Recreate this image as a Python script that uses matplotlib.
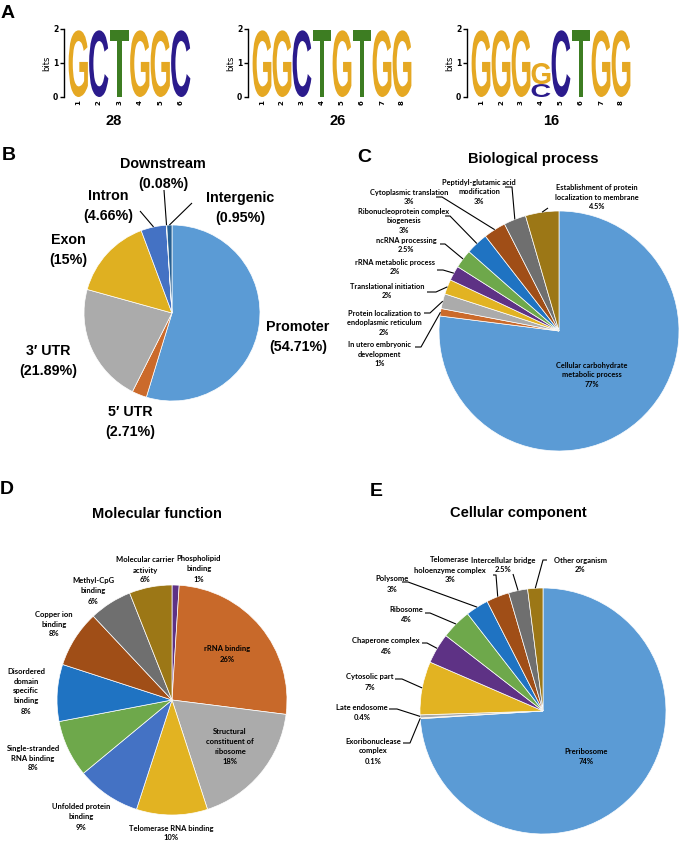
import numpy as np
import matplotlib
matplotlib.use("Agg")
import matplotlib.pyplot as plt
from matplotlib.textpath import TextPath
from matplotlib.patches import PathPatch
from matplotlib.font_manager import FontProperties
from matplotlib.transforms import Affine2D

W, H = 688, 844

# ---------------- data ----------------
# motif logos: each position is a stack (bottom -> top) of (base, bits)
motif_counts = ["28", "26", "16"]
motif1 = [[("G", 1.96)], [("C", 1.96)], [("T", 1.96)], [("G", 1.96)], [("G", 1.96)], [("C", 1.96)]]
motif2 = [[("G", 1.96)], [("G", 1.96)], [("C", 1.96)], [("T", 1.96)],
          [("G", 1.96)], [("T", 1.96)], [("G", 1.96)], [("G", 1.96)]]
motif3 = [[("G", 1.96)], [("G", 1.96)], [("G", 1.96)], [("C", 0.38), ("G", 0.62)],
          [("C", 1.96)], [("T", 1.96)], [("G", 1.96)], [("G", 1.96)]]

region_names = ["Promoter", "5\u2032 UTR", "3\u2032 UTR", "Exon", "Intron", "Downstream", "Intergenic"]
region_pct = [54.71, 2.71, 21.89, 15, 4.66, 0.08, 0.95]

bp_names = ["Cellular carbohydrate\nmetabolic process", "In utero embryonic\ndevelopment",
            "Protein localization to\nendoplasmic reticulum", "Translational initiation",
            "rRNA metabolic process", "ncRNA processing", "Ribonucleoprotein complex\nbiogenesis",
            "Cytoplasmic translation", "Peptidyl-glutamic acid\nmodification",
            "Establishment of protein\nlocalization to membrane"]
bp_pct = [77, 1, 2, 2, 2, 2.5, 3, 3, 3, 4.5]

mf_names = ["Phospholipid\nbinding", "rRNA binding", "Structural\nconstituent of\nribosome",
            "Telomerase RNA binding", "Unfolded protein\nbinding", "Single-stranded\nRNA binding",
            "Disordered\ndomain\nspecific\nbinding", "Copper ion\nbinding", "Methyl-CpG\nbinding",
            "Molecular carrier\nactivity"]
mf_pct = [1, 26, 18, 10, 9, 8, 8, 8, 6, 6]

cc_names = ["Preribosome", "Exoribonuclease\ncomplex", "Late endosome", "Cytosolic part",
            "Chaperone complex", "Ribosome", "Polysome", "Telomerase\nholoenzyme complex",
            "Intercellular bridge", "Other organism"]
cc_pct = [74, 0.1, 0.4, 7, 4, 4, 3, 3, 2.5, 2]

# ---------------- style ----------------
base_colors = {"G": "#E5A823", "C": "#2B1B8C", "T": "#3D7D22"}
region_colors = ["#5B9BD5", "#CB6A2B", "#ABABAB", "#DFB021", "#4472C4", "#6FA54A", "#265F92"]
go_colors = ["#5B9BD5", "#CB6A2B", "#ABABAB", "#E2B322", "#5E3285", "#6EA84B",
             "#1F73C2", "#A04E17", "#6F6F6F", "#9C7716"]
mf_colors = ["#5E3285", "#C8692A", "#ABABAB", "#E2B322", "#4472C4", "#6EA84B",
             "#1F73C2", "#A04E17", "#6F6F6F", "#9C7716"]

ARIAL = ["Liberation Sans", "DejaVu Sans"]
SMALL = ["Lato", "DejaVu Sans"]
letter_fp = FontProperties(family="Liberation Sans", weight="bold")

fig = plt.figure(figsize=(W / 100, H / 100), dpi=100)


def draw_letter(ax, ch, x, y, w, h, color):
    tp = TextPath((0, 0), ch, size=1, prop=letter_fp)
    bb = tp.get_extents()
    tr = Affine2D().translate(-bb.x0, -bb.y0).scale(w / bb.width, h / bb.height).translate(x, y)
    ax.add_patch(PathPatch(tr.transform_path(tp), fc=color, ec="none"))


def logo(box, stacks, count, count_x):
    x0, x1, ytop, ybot = box
    lax = fig.add_axes([x0 / W, 1 - ybot / H, (x1 - x0) / W, (ybot - ytop) / H])
    n = len(stacks)
    lax.set_xlim(0.5, n + 0.5)
    lax.set_ylim(0, 2)
    for i, stack in enumerate(stacks, start=1):
        base = 0
        for ch, h in stack:
            draw_letter(lax, ch, i - 0.47, base, 0.94, h, base_colors[ch])
            base += h
    for s in ["top", "right", "bottom"]:
        lax.spines[s].set_visible(False)
    lax.spines["left"].set_position(("outward", 3))
    lax.spines["left"].set_linewidth(1.0)
    lax.set_yticks([0, 1, 2], labels=["0", "1", "2"], fontsize=5.5, fontweight="bold")
    lax.tick_params(axis="y", length=3, width=1.0, pad=1)
    lax.set_xticks(range(1, n + 1), labels=[str(i) for i in range(1, n + 1)],
                   rotation=90, fontsize=5, fontweight="bold")
    lax.tick_params(axis="x", length=0, pad=2)
    lax.set_ylabel("bits", fontsize=6, labelpad=1)
    fig.text(count_x / W, 1 - 121 / H, count, fontsize=10.5, fontweight="bold",
             family=ARIAL, ha="center", va="center")


logo((68, 191, 29, 97), motif1, motif_counts[0], 114)
logo((252, 412, 29, 97), motif2, motif_counts[1], 338)
logo((471, 631, 29, 97), motif3, motif_counts[2], 551)

# ---------------- pies (pixel coordinates, y up) ----------------
ax = fig.add_axes([0, 0, 1, 1])


def P(x, y):
    return (x, H - y)


def pie(values, colors, cx, cy, r):
    wedges, _ = ax.pie(values, colors=colors, startangle=90, counterclock=False,
                       center=P(cx, cy), radius=r,
                       wedgeprops=dict(linewidth=0.5, edgecolor="white"))
    return wedges


def leaders(wedges, cx, cy, r, specs):
    c = P(cx, cy)
    for w, spec in zip(wedges, specs):
        if spec is None:
            continue
        a = np.deg2rad((w.theta1 + w.theta2) / 2)
        end = (c[0] + r * np.cos(a), c[1] + r * np.sin(a))
        pts = [P(*p) for p in spec] + [end]
        xs, ys = zip(*pts)
        ax.plot(xs, ys, color="black", lw=0.8, solid_capstyle="butt")


def labels(texts, positions, size, family, dy):
    # one text per line so the line pitch matches the reference
    for t, (x, y) in zip(texts, positions):
        lines = t.split("\n")
        n = len(lines)
        for k, line in enumerate(lines):
            yy = y + (k - (n - 1) / 2) * dy
            ax.text(*P(x, yy), line, ha="center", va="center",
                    fontsize=size, fontweight="bold", family=family)


# panel B
wb = pie(region_pct, region_colors, 172, 313, 88)
b_text = [f"{n}\n({v:g}%)" for n, v in zip(region_names, region_pct)]
labels(b_text, [(298, 337), (130, 422), (48, 361), (68, 250), (108, 206), (163, 174), (240, 208)],
       10.3, ARIAL, 19.5)
leaders(wb, 172, 313, 88, [None, None, None, None, [(140, 211)], [(164, 190)], [(192, 203)]])

# panel C
wc = pie(bp_pct, go_colors, 559, 331, 120)
labels([f"{n}\n{v:g}%" for n, v in zip(bp_names, bp_pct)],
       [(592, 375), (380, 354), (384, 323), (387, 291), (395, 267), (406, 245),
        (404, 221), (409, 197), (479, 192), (597, 197)], 5.3, SMALL, 9.4)
leaders(wc, 559, 331, 120,
        [None, [(415, 347), (421, 347)], [(424, 313), (430, 313)], [(427, 292), (436, 292)],
         [(437, 270), (443, 270)], [(440, 244), (445, 244)], [(445, 216), (450, 216)],
         [(436, 197), (442, 197)], [(505, 187), (512, 187)], [(548, 208)]])

# panel D
wd = pie(mf_pct, mf_colors, 172, 700, 115)
labels([f"{n}\n{v:g}%" for n, v in zip(mf_names, mf_pct)],
       [(199, 569), (227, 654), (230, 747), (171, 833), (81, 817), (33, 758),
        (26, 691), (54, 624), (93, 591), (145, 570)], 5.5, SMALL, 10)

# panel E
we = pie(cc_pct, go_colors, 543, 711, 123)
labels([f"{n}\n{v:g}%" for n, v in zip(cc_names, cc_pct)],
       [(586, 756), (373, 751), (362, 712), (370, 682), (386, 646), (406, 615),
        (392, 584), (450, 570), (503, 565), (580, 565)], 5.5, SMALL, 10)
leaders(we, 543, 711, 123,
        [None, [(403, 743), (410, 743)], [(389, 709), (397, 709)], [(395, 679), (402, 679)],
         [(422, 643), (427, 643)], [(425, 613), (430, 613)], [(402, 582), (408, 582)],
         [(493, 575), (496, 575)], [(513, 574)], [(547, 560), (543, 560)]])

# titles and panel letters
for t, (x, y) in zip(["Biological process", "Molecular function", "Cellular component"],
                     [(533, 159), (157, 514), (518, 513)]):
    ax.text(*P(x, y), t, ha="center", va="center", fontsize=10.5, fontweight="bold", family=ARIAL)
for t, (x, y) in zip("ABCDE", [(1, 13), (2, 155), (357, 157), (0, 490), (370, 491)]):
    ax.text(*P(x, y), t, ha="left", va="center", fontsize=14, fontweight="bold", family=ARIAL)

ax.set_aspect("auto")
ax.set_xlim(0, W)
ax.set_ylim(0, H)
ax.axis("off")

fig.savefig("out.png", dpi=100)
